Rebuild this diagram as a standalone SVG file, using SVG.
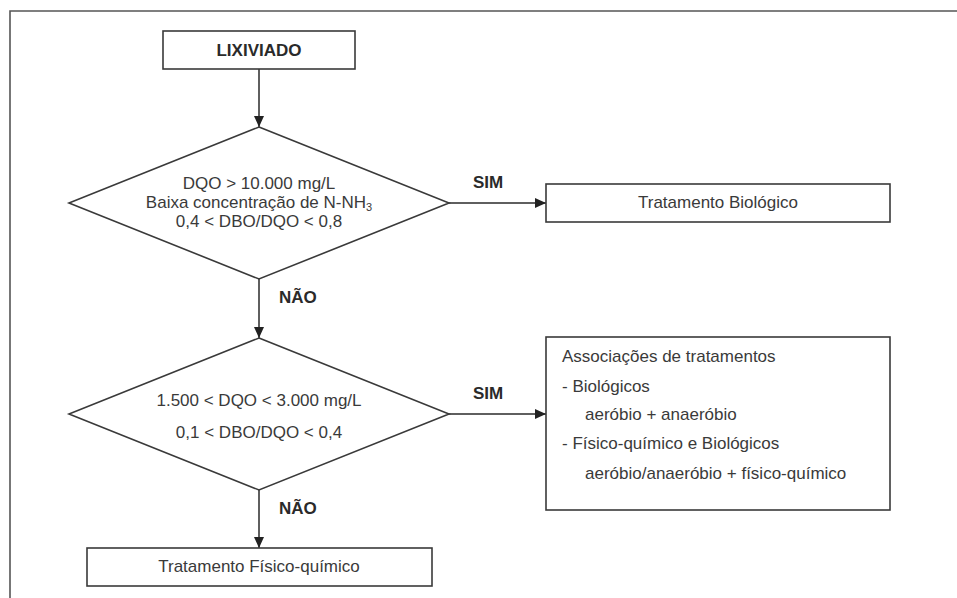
<svg xmlns="http://www.w3.org/2000/svg" width="957" height="598" viewBox="0 0 957 598">
<defs>
<marker id="arr" markerWidth="12" markerHeight="10" refX="11" refY="5" orient="auto" markerUnits="userSpaceOnUse">
<path d="M0,0 L11,5 L0,10 Z" fill="#222"/>
</marker>
<style>
.box{fill:#fff;stroke:#3a3a3a;stroke-width:1.6}
.t{font-family:"Liberation Sans",Arial,sans-serif;font-size:17px;fill:#3a3a3a}
.c{text-anchor:middle}
.b{font-weight:bold;fill:#2a2a2a}
.edge{stroke:#2a2a2a;stroke-width:1.5;fill:none;marker-end:url(#arr)}
</style>
</defs>
<rect width="957" height="598" fill="#fff"/>
<path d="M10,598 L10,11 L957,11" fill="none" stroke="#555" stroke-width="1.6"/>

<g id="connectors">
<line class="edge" x1="259" y1="69" x2="259" y2="127"/>
<line class="edge" x1="449" y1="203" x2="546" y2="203"/>
<line class="edge" x1="259" y1="279" x2="259" y2="338"/>
<line class="edge" x1="449" y1="414" x2="546" y2="414"/>
<line class="edge" x1="259" y1="490" x2="259" y2="548"/>
<text class="t b" x="473" y="188">SIM</text>
<text class="t b" x="279" y="303">NÃO</text>
<text class="t b" x="473" y="399">SIM</text>
<text class="t b" x="279" y="514">NÃO</text>
</g>

<g id="lixiviado">
<rect class="box" x="163" y="31" width="192" height="38"/>
<text class="t b c" x="259" y="56">LIXIVIADO</text>
</g>

<g id="decisao1">
<polygon class="box" points="259,127 449,203 259,279 69,203"/>
<text class="t c" x="259" y="189">DQO &gt; 10.000 mg/L</text>
<text class="t c" x="259" y="208">Baixa concentração de N-NH<tspan font-size="11" dy="3">3</tspan></text>
<text class="t c" x="259" y="227">0,4 &lt; DBO/DQO &lt; 0,8</text>
</g>

<g id="biologico">
<rect class="box" x="546" y="184" width="344" height="38"/>
<text class="t c" x="718" y="208">Tratamento Biológico</text>
</g>

<g id="decisao2">
<polygon class="box" points="259,338 449,414 259,490 69,414"/>
<text class="t c" x="259" y="406">1.500 &lt; DQO &lt; 3.000 mg/L</text>
<text class="t c" x="259" y="438">0,1 &lt; DBO/DQO &lt; 0,4</text>
</g>

<g id="associacoes">
<rect class="box" x="546" y="337" width="344" height="173"/>
<text class="t" x="562" y="362">Associações de tratamentos</text>
<text class="t" x="562" y="392">- Biológicos</text>
<text class="t" x="585" y="420">aeróbio + anaeróbio</text>
<text class="t" x="562" y="449">- Físico-químico e Biológicos</text>
<text class="t" x="585" y="479">aeróbio/anaeróbio + físico-químico</text>
</g>

<g id="fisicoquimico">
<rect class="box" x="87" y="548" width="345" height="38"/>
<text class="t c" x="259" y="572">Tratamento Físico-químico</text>
</g>
</svg>
